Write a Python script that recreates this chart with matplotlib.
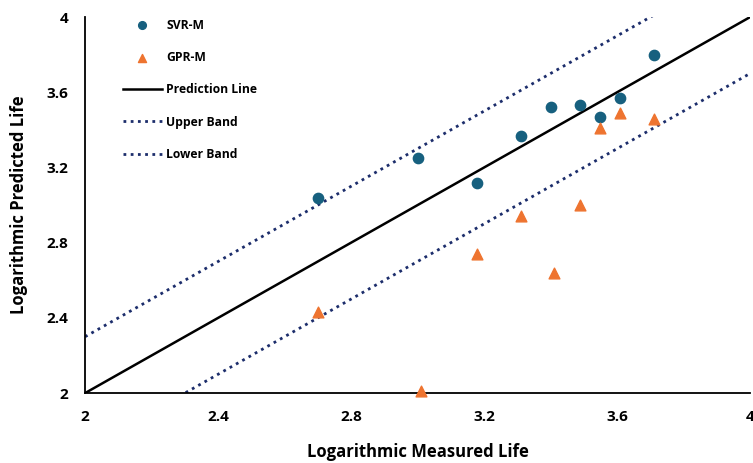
import numpy as np
import matplotlib
matplotlib.use("Agg")
import matplotlib.pyplot as plt

# values
svr_x = [2.70, 3.00, 3.18, 3.31, 3.40, 3.49, 3.55, 3.61, 3.71]
svr_y = [3.04, 3.25, 3.12, 3.37, 3.52, 3.53, 3.47, 3.57, 3.80]
gpr_x = [2.70, 3.01, 3.18, 3.31, 3.41, 3.49, 3.55, 3.61, 3.71]
gpr_y = [2.43, 2.01, 2.74, 2.94, 2.64, 3.00, 3.41, 3.49, 3.46]
band = 0.3
ticks = [2, 2.4, 2.8, 3.2, 3.6, 4]
tick_labels = ["2", "2.4", "2.8", "3.2", "3.6", "4"]

plt.rcParams["font.family"] = ["Open Sans", "DejaVu Sans"]

fig = plt.figure(figsize=(7.53, 4.63), dpi=100)
ax = fig.add_axes([0.113, 0.151, 0.883, 0.812])

teal = "#17607f"
orange = "#ee7430"
navy = "#1c2d6b"

ax.scatter(svr_x, svr_y, s=55, color=teal, marker="o", label="SVR-M", zorder=3, clip_on=False)
ax.scatter(gpr_x, gpr_y, s=60, color=orange, marker="^", label="GPR-M", zorder=3, clip_on=False)

lx = np.array([2.0, 4.0])
ax.plot(lx, lx, color="black", lw=1.8, label="Prediction Line")
ax.plot(lx, lx + band, color=navy, lw=2.0, ls=(0, (1, 1.6)), label="Upper Band")
ax.plot(lx, lx - band, color=navy, lw=2.0, ls=(0, (1, 1.6)), label="Lower Band")

ax.set_xlim(2, 4)
ax.set_ylim(2, 4)
ax.set_xticks(ticks)
ax.set_xticklabels(tick_labels)
ax.set_yticks(ticks)
ax.set_yticklabels(tick_labels)
ax.tick_params(length=0, labelsize=11, pad=12)
for lab in ax.get_xticklabels() + ax.get_yticklabels():
    lab.set_fontweight("bold")
ax.spines["top"].set_visible(False)
ax.spines["right"].set_visible(False)
ax.spines["left"].set_linewidth(1.3)
ax.spines["bottom"].set_linewidth(1.3)

ax.set_xlabel("Logarithmic Measured Life", fontsize=12, fontweight="bold", labelpad=14)
ax.set_ylabel("Logarithmic Predicted Life", fontsize=12, fontweight="bold", labelpad=13)

leg = ax.legend(loc="upper left", bbox_to_anchor=(0.04, 1.025), frameon=False,
                labelspacing=1.6, handlelength=3.3, handletextpad=0.3, markerscale=0.75,
                prop={"weight": "bold", "size": 8.7})

fig.savefig("out.png", dpi=100)
plt.close(fig)
